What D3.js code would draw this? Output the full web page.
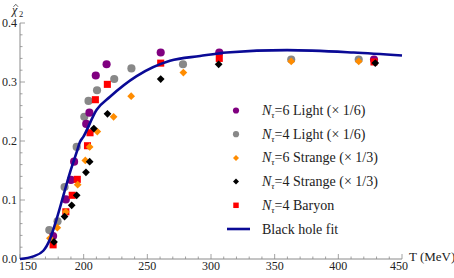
<!DOCTYPE html>
<html>
<head>
<meta charset="utf-8">
<script src="https://cdn.jsdelivr.net/npm/d3@7"></script>
<style>
body { margin: 0; background: #fff; }
</style>
</head>
<body>
<div id="graph"></div>
<script>
// data (T in MeV, chi2 scaled)
var light6T = [176, 186, 190, 192.5, 202, 204.5, 209.5, 218, 260.5, 306.5, 428];
var light6V = [0.039, 0.101, 0.134, 0.165, 0.229, 0.248, 0.311, 0.330, 0.350, 0.350, 0.338];
var light4T = [173, 179.5, 185, 194.5, 200.5, 203.8, 210.5, 224, 237.5, 278, 363, 416];
var light4V = [0.049, 0.064, 0.122, 0.190, 0.241, 0.268, 0.286, 0.305, 0.323, 0.330, 0.338, 0.338];
var strange6T = [173.5, 179.3, 186, 195.3, 201.3, 204.7, 210.7, 223.5, 237.3, 278.3, 363, 416];
var strange6V = [0.035, 0.053, 0.080, 0.126, 0.167, 0.190, 0.216, 0.241, 0.276, 0.316, 0.335, 0.335];
var strange4T = [176.7, 185, 190.6, 194.5, 201.8, 204.7, 208, 218.7, 260.5, 306, 429];
var strange4V = [0.029, 0.072, 0.091, 0.108, 0.147, 0.165, 0.221, 0.246, 0.305, 0.330, 0.332];
var baryonT = [176, 186, 191, 195, 203, 205, 209.2, 218.6, 260.5, 306.5, 428];
var baryonV = [0.024, 0.080, 0.108, 0.135, 0.192, 0.214, 0.270, 0.296, 0.332, 0.340, 0.334];
var fitT = [150, 160.5, 168.3, 173.6, 178.8, 184, 189.3, 194.5, 197, 199.7, 210.2, 220.7, 241.6, 267.8, 291.4, 312.3, 359.7, 412, 450];
var fitV = [0, 0.0045, 0.014, 0.034, 0.068, 0.107, 0.147, 0.181, 0.198, 0.207, 0.253, 0.275, 0.310, 0.336, 0.344, 0.350, 0.354, 0.350, 0.345];
var xTicks = [150, 200, 250, 300, 350, 400, 450];
var yTicks = [0.0, 0.1, 0.2, 0.3, 0.4];
var legendLabels = ["=6 Light (\u00d7 1/6)", "=4 Light (\u00d7 1/6)", "=6 Strange (\u00d7 1/3)",
	"=4 Strange (\u00d7 1/3)", "=4 Baryon", "Black hole fit"];

var width = 454, height = 278;
var axisCol = "#8a8a8a";
var serif = "'Liberation Serif', 'Times New Roman', Times, 'DejaVu Serif', serif";

var svg = d3.select("div#graph").append("svg")
	.attr("width", width)
	.attr("height", height)
	.attr("font-family", serif)
	.style("font-family", serif);

var xScale = d3.scaleLinear().domain([150, 450]).range([20, 402]);
var yScale = d3.scaleLinear().domain([0, 0.4]).range([259, 23]);

// axes
var ax = svg.append("g");
ax.append("line")
	.attr("x1", xScale(150)).attr("x2", xScale(450))
	.attr("y1", yScale(0)).attr("y2", yScale(0))
	.attr("stroke", axisCol);
ax.append("line")
	.attr("x1", xScale(150)).attr("x2", xScale(150))
	.attr("y1", yScale(0)).attr("y2", yScale(0.4))
	.attr("stroke", axisCol);

// x ticks: minor every 10, major every 50
d3.range(150, 451, 10).forEach(function(t) {
	var major = (t % 50 == 0);
	ax.append("line")
		.attr("x1", xScale(t)).attr("x2", xScale(t))
		.attr("y1", yScale(0)).attr("y2", yScale(0) - (major ? 5 : 2.5))
		.attr("stroke", axisCol).attr("stroke-width", 0.8);
});
d3.range(0, 0.401, 0.02).forEach(function(v) {
	var major = Math.abs(v * 10 - Math.round(v * 10)) < 1e-6;
	ax.append("line")
		.attr("x1", xScale(150)).attr("x2", xScale(150) + (major ? 5 : 2.5))
		.attr("y1", yScale(v)).attr("y2", yScale(v))
		.attr("stroke", axisCol).attr("stroke-width", 0.8);
});

ax.selectAll("text.xt").data(xTicks).enter().append("text")
	.attr("class", "xt")
	.attr("x", function(d) { return xScale(d) + (d == 150 ? 8 : (d == 450 ? -3 : 0)); })
	.attr("y", 270)
	.attr("text-anchor", "middle")
	.attr("font-size", 12)
	.attr("fill", "#222")
	.text(function(d) { return d; });

ax.selectAll("text.yt").data(yTicks).enter().append("text")
	.attr("class", "yt")
	.attr("x", 17)
	.attr("y", function(d) { return yScale(d) + 4; })
	.attr("text-anchor", "end")
	.attr("font-size", 12)
	.attr("fill", "#222")
	.text(function(d) { return d.toFixed(1); });

ax.append("text").attr("x", 409).attr("y", 261).attr("font-size", 13).attr("fill", "#222").text("T (MeV)");

// y label: chi with a hat (hat drawn as a small path), subscript 2
ax.append("text").attr("x", 12).attr("y", 13.5).attr("font-size", 12)
	.attr("font-style", "italic").attr("fill", "#222").text("\u03c7");
ax.append("path").attr("d", "M13.5,6.8 L15.8,4.3 L18.1,6.8")
	.attr("fill", "none").attr("stroke", "#222").attr("stroke-width", 0.7);
ax.append("text").attr("x", 19).attr("y", 17).attr("font-size", 8.5).attr("fill", "#222").text("2");

// marker shapes
var sym = {
	circle: d3.symbol().type(d3.symbolCircle).size(52),
	square: d3.symbol().type(d3.symbolSquare).size(50),
	diamond: d3.symbol().type(d3.symbolSquare).size(30)
};
var legSym = {
	circle: d3.symbol().type(d3.symbolCircle).size(30),
	square: d3.symbol().type(d3.symbolSquare).size(30),
	diamond: d3.symbol().type(d3.symbolSquare).size(18)
};

function drawSeries(ts, vs, shape, color) {
	var pts = ts.map(function(t, i) { return [t, vs[i]]; });
	svg.append("g").selectAll("path").data(pts).enter().append("path")
		.attr("d", sym[shape]())
		.attr("fill", color)
		.attr("transform", function(d) {
			return "translate(" + xScale(d[0]) + "," + yScale(d[1]) + ")" + (shape == "diamond" ? " rotate(45)" : "");
		});
}

drawSeries(light4T, light4V, "circle", "#888888");
drawSeries(light6T, light6V, "circle", "#800080");
drawSeries(baryonT, baryonV, "square", "#ff0000");
drawSeries(strange6T, strange6V, "diamond", "#ff8c00");
drawSeries(strange4T, strange4V, "diamond", "#000000");

var fitPts = fitT.map(function(t, i) { return [t, fitV[i]]; });
svg.append("path")
	.attr("d", d3.line()
		.x(function(d) { return xScale(d[0]); })
		.y(function(d) { return yScale(d[1]); })
		.curve(d3.curveMonotoneX)(fitPts))
	.attr("fill", "none")
	.attr("stroke", "#0a0a96")
	.attr("stroke-width", 2.6);

// legend
var legShapes = ["circle", "circle", "diamond", "diamond", "square", "line"];
var legColors = ["#800080", "#888888", "#ff8c00", "#000000", "#ff0000", "#0a0a96"];
var legY = d3.scaleLinear().domain([0, 5]).range([110.5, 229]);
var leg = svg.append("g");
legendLabels.forEach(function(lab, i) {
	var y = legY(i);
	if (legShapes[i] == "line") {
		leg.append("line").attr("x1", 227).attr("x2", 250).attr("y1", y).attr("y2", y)
			.attr("stroke", legColors[i]).attr("stroke-width", 2.6);
	} else {
		leg.append("path").attr("d", legSym[legShapes[i]]())
			.attr("fill", legColors[i])
			.attr("transform", "translate(236," + y + ")" + (legShapes[i] == "diamond" ? " rotate(45)" : ""));
	}
	var t = leg.append("text").attr("x", 262).attr("y", y + 4.5).attr("font-size", 14).attr("fill", "#222");
	if (i < 5) {
		t.append("tspan").attr("font-style", "italic").text("N");
		t.append("tspan").attr("font-style", "italic").attr("font-size", 9).attr("dy", 3).text("\u03c4");
		t.append("tspan").attr("dy", -3).text(lab);
	} else {
		t.text(lab);
	}
});
</script>
</body>
</html>
